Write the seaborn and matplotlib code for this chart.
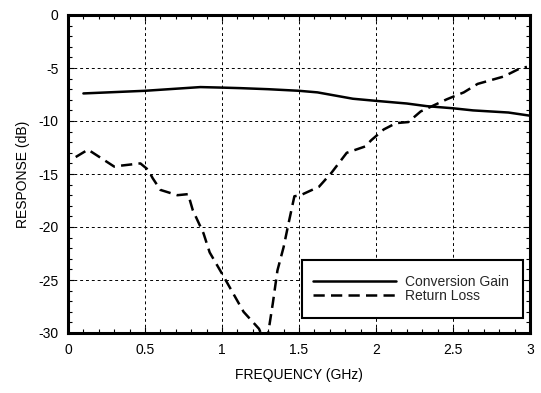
import numpy as np
import pandas as pd
import matplotlib
matplotlib.use("Agg")
import matplotlib.pyplot as plt
import seaborn as sns
from matplotlib.ticker import MultipleLocator
from matplotlib.patches import Rectangle

# Data
gain_freq = [0.1, 0.5, 0.86, 1.0, 1.12, 1.3, 1.5, 1.62, 1.85, 2.0, 2.2, 2.33, 2.5, 2.63, 2.86, 3.0]
gain_db = [-7.4, -7.15, -6.8, -6.85, -6.9, -7.0, -7.15, -7.3, -7.9, -8.1, -8.35, -8.6, -8.8, -9.0, -9.2, -9.5]

rl_freq = [0.05, 0.13, 0.3, 0.35, 0.47, 0.52, 0.55, 0.6, 0.71, 0.78, 0.81, 0.88, 0.92, 1.0, 1.07,
           1.14, 1.24, 1.27, 1.3, 1.33, 1.36, 1.4, 1.43, 1.47, 1.51, 1.63, 1.71, 1.81, 1.93, 1.97,
           2.05, 2.13, 2.21, 2.29, 2.46, 2.57, 2.66, 2.83, 2.94, 2.98]
rl_db = [-13.4, -12.7, -14.3, -14.2, -14.0, -14.6, -15.4, -16.5, -17.0, -16.9, -18.4, -20.6, -22.4, -24.4, -26.2,
         -28.0, -29.6, -30.6, -30.0, -27.2, -24.1, -21.9, -19.8, -17.1, -17.0, -16.2, -14.9, -13.0, -12.4, -11.8,
         -10.8, -10.2, -10.1, -9.1, -7.95, -7.3, -6.5, -5.8, -5.0, -4.9]

series_names = ["Conversion Gain", "Return Loss"]
x_ticks = [0, 0.5, 1, 1.5, 2, 2.5, 3]
x_tick_labels = ["0", "0.5", "1", "1.5", "2", "2.5", "3"]
y_ticks = [0, -5, -10, -15, -20, -25, -30]
y_tick_labels = ["0", "-5", "-10", "-15", "-20", "-25", "-30"]

df = pd.concat([
    pd.DataFrame({"freq": gain_freq, "db": gain_db, "series": series_names[0]}),
    pd.DataFrame({"freq": rl_freq, "db": rl_db, "series": series_names[1]}),
], ignore_index=True)

sns.set_theme(style="white")
plt.rcParams["font.family"] = ["Liberation Sans", "DejaVu Sans"]

fig = plt.figure(figsize=(5.41, 3.93), dpi=100)
ax = fig.add_axes([68/541, 1 - 333/393, (530-68)/541, (333-15)/393])

sns.lineplot(data=df, x="freq", y="db", hue="series", style="series",
             palette=["black", "black"], dashes={series_names[0]: "", series_names[1]: (4.5, 2.5)},
             linewidth=1.8, ax=ax, legend=True, sort=False)

ax.set_xlim(0, 3)
ax.set_ylim(-30, 0)
ax.set_xticks(x_ticks)
ax.set_xticklabels(x_tick_labels)
ax.set_yticks(y_ticks)
ax.set_yticklabels(y_tick_labels)
ax.xaxis.set_minor_locator(MultipleLocator(0.1))
ax.yaxis.set_minor_locator(MultipleLocator(1))
ax.tick_params(which="both", direction="in", top=True, right=True, bottom=True, left=True,
               color="black", width=0.8)
ax.tick_params(which="major", length=4, labelsize=10, pad=7, colors="black")
ax.tick_params(which="minor", length=3)
ax.grid(True, which="major", color="black", linestyle=(0, (3, 3)), linewidth=0.7)
for sp in ax.spines.values():
    sp.set_visible(True)
    sp.set_color("black")
    sp.set_linewidth(2.2)
ax.set_xlabel("FREQUENCY (GHz)", fontsize=10, color="black", labelpad=8)
ax.set_ylabel("RESPONSE (dB)", fontsize=10, color="black", labelpad=6)

# Legend box
bx0, bx1 = (302-68)/462, (523-68)/462
by0, by1 = (333-318)/318, (333-260)/318
ax.add_patch(Rectangle((bx0, by0), bx1-bx0, by1-by0, transform=ax.transAxes,
                       facecolor="white", edgecolor="black", linewidth=1.5, zorder=5))

handles, labels = ax.get_legend_handles_labels()
leg = ax.legend(handles, labels, loc="center", bbox_to_anchor=((bx0+bx1)/2 - 0.004, (by0+by1)/2),
                fontsize=10, frameon=False,
                handlelength=6.0, handletextpad=0.65, labelspacing=0.0,
                borderpad=0, borderaxespad=0)
leg.set_zorder(6)

fig.savefig("out.png", dpi=100)
